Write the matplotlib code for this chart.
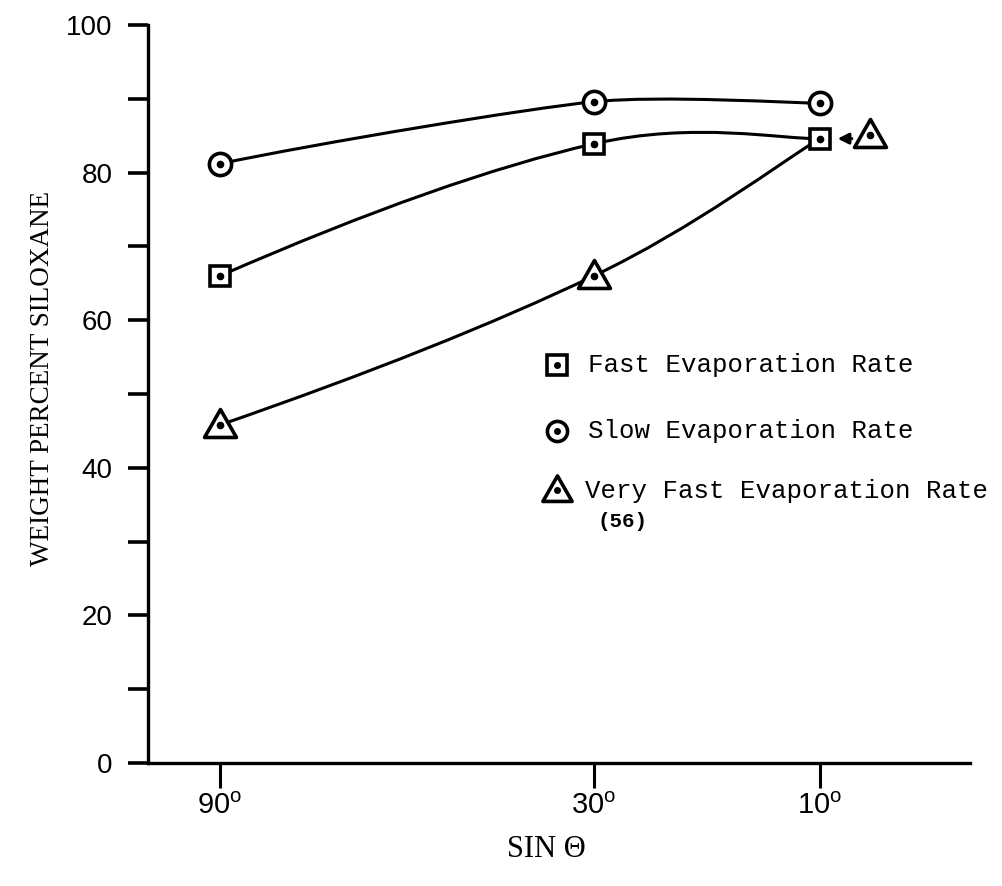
import matplotlib
matplotlib.use("Agg")
import matplotlib.pyplot as plt
from matplotlib.path import Path
from matplotlib.patches import PathPatch

# x positions on the sin(theta) scale (90, 30, 10 deg)
angle_labels = ["90", "30", "10"]
x_pos = [1.0, 0.5, 0.198]

slow = [81.2, 89.6, 89.4]
fast = [66.0, 83.9, 84.6]
very_fast = [45.8, 66.0, 84.6]

# lone "very fast" point from ref. (56), drawn beside the 10 deg square
ref56_x = 0.131
ref56_y = 85.1

legend_labels = ["Fast Evaporation Rate", "Slow Evaporation Rate",
                 "Very Fast Evaporation Rate"]
legend_note = "(56)"

MONO = ["Liberation Mono", "DejaVu Sans Mono"]
SERIF = ["Liberation Serif", "DejaVu Serif"]
SANS = ["Liberation Sans", "DejaVu Sans"]

# squatter, near-equilateral triangle like the hand-drawn ones
TRI = Path([(-1.0, -0.75), (1.0, -0.75), (0.0, 1.0), (-1.0, -0.75)],
           [Path.MOVETO, Path.LINETO, Path.LINETO, Path.CLOSEPOLY])


def smooth_path(xs, ys, tension=6.0):
    """Catmull-Rom style curve through the points, as cubic Bezier segments.

    The start gets a parabolic ghost point (so the first segment bends like
    a French-curve stroke), the end a duplicated one (flat finish)."""
    pts = list(zip(xs, ys))
    a, b, c = pts[0], pts[1], pts[2]
    ghost = (3 * a[0] - 3 * b[0] + c[0], 3 * a[1] - 3 * b[1] + c[1])
    ext = [ghost] + pts + [pts[-1]]
    verts = [pts[0]]
    codes = [Path.MOVETO]
    for i in range(1, len(ext) - 2):
        p0, p1, p2, p3 = ext[i - 1], ext[i], ext[i + 1], ext[i + 2]
        c1 = (p1[0] + (p2[0] - p0[0]) / tension,
              p1[1] + (p2[1] - p0[1]) / tension)
        c2 = (p2[0] - (p3[0] - p1[0]) / tension,
              p2[1] - (p3[1] - p1[1]) / tension)
        verts += [c1, c2, p2]
        codes += [Path.CURVE4] * 3
    return Path(verts, codes)


def marker(ax, x, y, shape, size, dot=4.5, ew=2.6):
    ax.plot(x, y, linestyle="none", marker=shape, markersize=size,
            markerfacecolor="white", markeredgecolor="black",
            markeredgewidth=ew, zorder=3, clip_on=False)
    ax.plot(x, y, linestyle="none", marker="o", markersize=dot,
            color="black", zorder=4, clip_on=False)


fig = plt.figure(figsize=(10.03, 8.86), dpi=100)
ax = fig.add_axes([0.1476, 0.1388, 0.8195, 0.833])

for ys, t in ((slow, 9.0), (fast, 6.0), (very_fast, 6.0)):
    ax.add_patch(PathPatch(smooth_path(x_pos, ys, t), facecolor="none",
                           edgecolor="black", linewidth=2.2, zorder=2))

marker(ax, x_pos, slow, "o", 16)
marker(ax, x_pos, fast, "s", 15)
marker(ax, x_pos[:2], very_fast[:2], TRI, 23)
marker(ax, [ref56_x], [ref56_y], TRI, 23)

ax.annotate("", xy=(x_pos[2] - 0.024, fast[2]), xytext=(ref56_x + 0.024, fast[2]),
            arrowprops=dict(arrowstyle="-|>", color="black", lw=2.2,
                            mutation_scale=16, shrinkA=0, shrinkB=0))

# hand-placed key, as in the original
key_x = 0.5495
marker(ax, [key_x], [53.9], "s", 14, dot=4, ew=2.6)
marker(ax, [key_x], [45.0], "o", 14.5, dot=4, ew=2.6)
marker(ax, [key_x], [37.0], TRI, 21, dot=4, ew=2.6)
ax.text(0.508, 53.9, legend_labels[0], fontsize=18.5, family=MONO,
        ha="left", va="center")
ax.text(0.508, 45.0, legend_labels[1], fontsize=18.5, family=MONO,
        ha="left", va="center")
ax.text(0.512, 36.9, legend_labels[2], fontsize=18.5, family=MONO,
        ha="left", va="center")
ax.text(0.495, 32.7, legend_note, fontsize=15, family=MONO,
        fontweight="bold", ha="left", va="center")

ax.set_xlim(1.096, -0.003)
ax.set_ylim(0, 100)

ax.spines["top"].set_visible(False)
ax.spines["right"].set_visible(False)
for s in ("left", "bottom"):
    ax.spines[s].set_linewidth(2.4)

ax.set_yticks(range(0, 101, 20))
ax.set_yticks(range(10, 100, 20), minor=True)
ax.set_yticklabels([str(v) for v in range(0, 101, 20)], family=SANS,
                   fontsize=20)
ax.tick_params(axis="y", which="both", direction="out", length=14.5,
               width=2.6, pad=11)

ax.set_xticks(x_pos)
ax.set_xticklabels([a + r"$^\mathregular{o}$" for a in angle_labels],
                   family=SANS, fontsize=21)
ax.tick_params(axis="x", direction="out", length=18, width=2.2, pad=3)

fig.text(0.042, 0.573, "WEIGHT PERCENT SILOXANE", rotation=90,
         family=SERIF, fontsize=19.5, ha="center", va="center")
fig.text(0.545, 0.041, "SIN \u0398", family=SERIF, fontsize=22,
         ha="center", va="center")

fig.savefig("out.png", dpi=100)
